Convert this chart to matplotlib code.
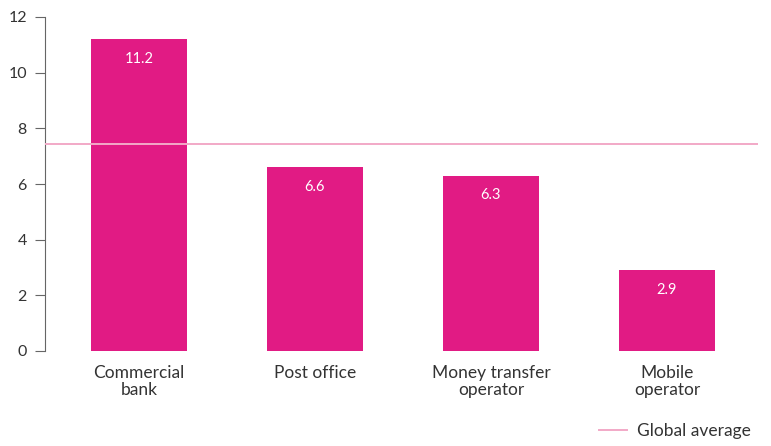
import matplotlib
matplotlib.use("Agg")
import matplotlib.pyplot as plt

categories = ["Commercial\nbank", "Post office", "Money transfer\noperator", "Mobile\noperator"]
costs = [11.2, 6.6, 6.3, 2.9]
global_average = 7.44
yticks = [0, 2, 4, 6, 8, 10, 12]

plt.rcParams['font.family'] = ['Lato', 'DejaVu Sans']
bar_color = '#E11B84'
avg_color = '#F2A9C7'
text_color = '#333333'

fig = plt.figure(figsize=(7.71, 4.46), dpi=100)
ax = fig.add_axes([45/771, 1-351/446, 713/771, 334/446])

x = list(range(len(categories)))
bars = ax.bar(x, costs, width=0.545, color=bar_color, zorder=2)
for xi, v in zip(x, costs):
    ax.text(xi, v - 0.7, f"{v}", ha='center', va='center', color='white', fontsize=10.5, zorder=3)

ax.axhline(global_average, color=avg_color, lw=1.4, zorder=4, label='Global average')

ax.set_ylim(0, 12)
ax.set_xlim(-0.534, 3.517)
ax.set_yticks(yticks)
ax.set_xticks(x)
ax.set_xticklabels(categories, fontsize=12.5, color=text_color, linespacing=1.05)
ax.tick_params(axis='x', length=0, pad=10)
ax.tick_params(axis='y', length=7, color='#666666', labelsize=11.5, labelcolor=text_color, pad=6)
for s in ['top', 'right', 'bottom']:
    ax.spines[s].set_visible(False)
ax.spines['left'].set_color('#666666')
ax.spines['left'].set_bounds(0, 12)

ax.legend(loc='lower right', bbox_to_anchor=(1.0, -0.285), frameon=False, fontsize=12.5,
          handlelength=1.6, handletextpad=0.6, borderaxespad=0, labelcolor=text_color)

fig.savefig('out.png', dpi=100)
